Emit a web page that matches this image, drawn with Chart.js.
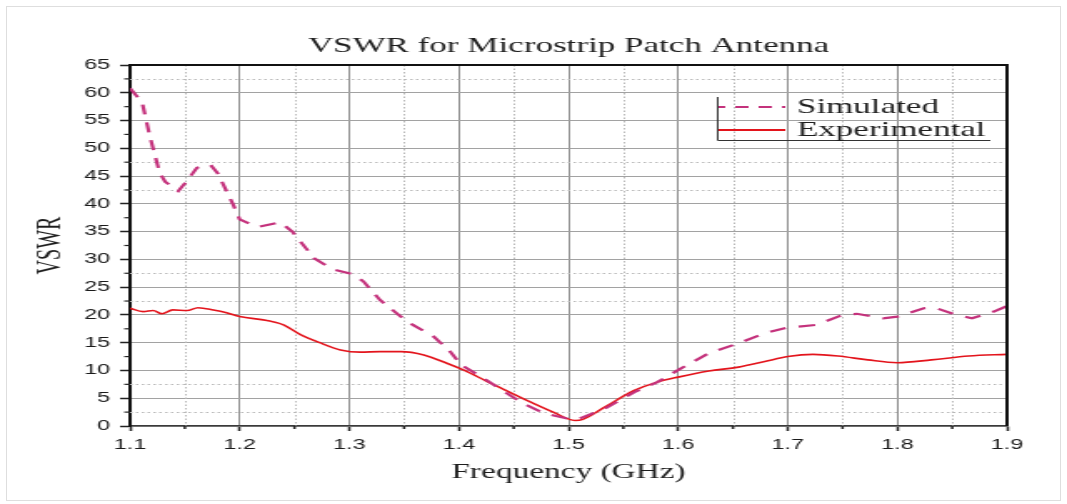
<!DOCTYPE html>
<html>
<head>
<meta charset="utf-8">
<script src="https://cdn.jsdelivr.net/npm/chart.js@4/dist/chart.umd.min.js"></script>
<style>
  html, body { margin: 0; padding: 0; background: #fff; }
  #wrap { position: relative; width: 1067px; height: 504px; overflow: hidden; }
  #frame { position: absolute; left: 6px; top: 6px; right: 6px; bottom: 3px; border: 1px solid #dedede; }
  #c { position: absolute; left: 0; top: 0; }
</style>
</head>
<body>
<div id="wrap">
  <div id="frame"></div>
  <!-- drawn 640 wide, shown 1067 wide: wide glyphs and wide vertical strokes -->
  <canvas id="c" width="640" height="504" style="width:1067px;height:504px"></canvas>
</div>
<script>
// ---- text ----
const chartTitle = 'VSWR for Microstrip Patch Antenna';
const xAxisTitle = 'Frequency (GHz)';
const yAxisTitle = 'VSWR';
const seriesNames = ['Simulated', 'Experimental'];

// ---- axes ----
const xTicks = [1.1, 1.2, 1.3, 1.4, 1.5, 1.6, 1.7, 1.8, 1.9];
const yTicks = [0, 5, 10, 15, 20, 25, 30, 35, 40, 45, 50, 55, 60, 65];
const xMinorTicks = [1.15, 1.25, 1.35, 1.45, 1.55, 1.65, 1.75, 1.85];
const yMinorTicks = [2.5, 7.5, 12.5, 17.5, 22.5, 27.5, 32.5, 37.5, 42.5, 47.5, 52.5, 57.5, 62.5];
const yDottedGrid = [2.5, 7.5, 22.5, 27.5, 42.5, 47.5, 62.5];

// ---- simulated VSWR ----
const simFreq = [1.100, 1.111, 1.118, 1.127, 1.132, 1.144, 1.151, 1.161, 1.173, 1.180,
                 1.194, 1.200, 1.216, 1.237, 1.248, 1.268, 1.285, 1.304, 1.313, 1.328,
                 1.347, 1.358, 1.377, 1.392, 1.402, 1.420, 1.435, 1.459, 1.479, 1.500,
                 1.508, 1.533, 1.560, 1.581, 1.601, 1.628, 1.655, 1.679, 1.699, 1.726,
                 1.750, 1.763, 1.787, 1.800, 1.824, 1.834, 1.854, 1.868, 1.888, 1.900];
const simVswr = [60.8, 58.3, 52.2, 45.6, 44.0, 42.3, 43.9, 46.5, 47.1, 45.5,
                 39.9, 37.2, 35.8, 36.7, 35.0, 30.2, 28.2, 27.3, 26.0, 22.7,
                 19.7, 18.2, 16.1, 13.4, 11.0, 8.9, 7.0, 4.0, 2.2, 1.3,
                 1.2, 3.1, 6.1, 7.9, 10.2, 13.1, 14.9, 16.7, 17.7, 18.2,
                 20.0, 20.2, 19.4, 19.7, 21.2, 21.3, 20.0, 19.4, 20.6, 21.6];

// ---- experimental VSWR ----
const expFreq = [1.100, 1.112, 1.121, 1.129, 1.139, 1.152, 1.162, 1.176, 1.188, 1.200,
                 1.225, 1.240, 1.255, 1.273, 1.292, 1.310, 1.328, 1.347, 1.368, 1.389,
                 1.404, 1.425, 1.459, 1.486, 1.506, 1.513, 1.533, 1.560, 1.581, 1.600,
                 1.628, 1.655, 1.679, 1.700, 1.723, 1.746, 1.773, 1.800, 1.831, 1.865, 1.900];
const expVswr = [21.2, 20.6, 20.8, 20.2, 20.9, 20.8, 21.3, 20.9, 20.4, 19.7,
                 19.0, 18.2, 16.5, 15.0, 13.7, 13.3, 13.4, 13.4, 12.8, 11.3,
                 10.1, 8.1, 4.9, 2.5, 1.0, 1.2, 3.4, 6.4, 7.9, 8.8,
                 9.9, 10.6, 11.6, 12.5, 12.9, 12.6, 11.9, 11.4, 11.9, 12.6, 12.9];

const simColor = '#c4327c';
const expColor = '#e3141c';
const simDash = [10, 8];
const serif = "'Liberation Serif', 'Times New Roman', serif";
const sans = "'Liberation Sans', Arial, sans-serif";

// dotted minor grid, minor ticks, frame edges, title and legend
const decor = {
  id: 'decor',
  beforeDatasetsDraw(chart) {
    const { ctx, chartArea: a, scales: { x, y } } = chart;
    ctx.save();
    ctx.strokeStyle = '#b9b9b9';
    ctx.lineWidth = 1;
    ctx.setLineDash([1.5, 2]);
    xMinorTicks.forEach(v => {
      const px = Math.round(x.getPixelForValue(v)) + 0.5;
      ctx.beginPath(); ctx.moveTo(px, a.top); ctx.lineTo(px, a.bottom); ctx.stroke();
    });
    yDottedGrid.forEach(v => {
      const py = Math.round(y.getPixelForValue(v)) + 0.5;
      ctx.beginPath(); ctx.moveTo(a.left, py); ctx.lineTo(a.right, py); ctx.stroke();
    });
    ctx.setLineDash([]);
    ctx.strokeStyle = '#222';
    ctx.lineWidth = 1.5;
    xMinorTicks.forEach(v => {
      const px = x.getPixelForValue(v);
      ctx.beginPath(); ctx.moveTo(px, a.bottom); ctx.lineTo(px, a.bottom + 3); ctx.stroke();
    });
    ctx.lineWidth = 1.2;
    yMinorTicks.forEach(v => {
      const py = y.getPixelForValue(v);
      ctx.beginPath(); ctx.moveTo(a.left - 3.5, py); ctx.lineTo(a.left, py); ctx.stroke();
    });
    ctx.restore();
  },
  afterDatasetsDraw(chart) {
    const { ctx, chartArea: a } = chart;
    ctx.save();
    ctx.strokeStyle = '#111';
    ctx.lineWidth = 2;
    ctx.beginPath(); ctx.moveTo(a.left, a.top); ctx.lineTo(a.right + 1, a.top); ctx.stroke();
    ctx.beginPath(); ctx.moveTo(a.right, a.top); ctx.lineTo(a.right, a.bottom); ctx.stroke();
    ctx.restore();
  },
  afterDraw(chart) {
    const { ctx, chartArea: a } = chart;
    ctx.save();
    // title
    ctx.fillStyle = '#1e1e1e';
    ctx.font = `21px ${serif}`;
    ctx.textAlign = 'center';
    ctx.textBaseline = 'middle';
    ctx.fillText(chartTitle, (a.left + a.right) / 2, 46);

    // legend
    const lx = a.left + 352, top = a.top + 32, bottom = a.top + 75, rx = a.right - 10;
    ctx.strokeStyle = '#333';
    ctx.lineWidth = 1;
    ctx.beginPath();
    ctx.moveTo(lx + 0.5, top); ctx.lineTo(lx + 0.5, bottom + 0.5); ctx.lineTo(rx, bottom + 0.5);
    ctx.stroke();
    const rows = [
      { name: seriesNames[0], color: simColor, dash: [8, 6], y: a.top + 42 },
      { name: seriesNames[1], color: expColor, dash: [], y: a.top + 65 }
    ];
    ctx.textAlign = 'left';
    ctx.font = `21px ${serif}`;
    rows.forEach(r => {
      ctx.strokeStyle = r.color;
      ctx.lineWidth = 2;
      ctx.setLineDash(r.dash);
      ctx.lineDashOffset = r.dash.length ? 4 : 0;
      ctx.beginPath(); ctx.moveTo(lx + 1, r.y); ctx.lineTo(lx + 41, r.y); ctx.stroke();
      ctx.setLineDash([]);
      ctx.fillStyle = '#1e1e1e';
      ctx.fillText(r.name, lx + 48, r.y);
    });
    ctx.restore();
  }
};

new Chart(document.getElementById('c'), {
  type: 'line',
  data: {
    datasets: [
      {
        label: seriesNames[0],
        data: simFreq.map((f, i) => ({ x: f, y: simVswr[i] })),
        borderColor: simColor,
        borderWidth: 2.2,
        borderDash: simDash,
        pointRadius: 0,
        tension: 0,
        fill: false
      },
      {
        label: seriesNames[1],
        data: expFreq.map((f, i) => ({ x: f, y: expVswr[i] })),
        borderColor: expColor,
        borderWidth: 1.6,
        pointRadius: 0,
        cubicInterpolationMode: 'monotone',
        fill: false
      }
    ]
  },
  options: {
    responsive: false,
    animation: false,
    devicePixelRatio: 1,
    layout: { padding: { left: 0, right: 36, top: 65, bottom: 0 } },
    plugins: { legend: { display: false }, tooltip: { enabled: false }, title: { display: false } },
    scales: {
      x: {
        type: 'linear',
        min: 1.1,
        max: 1.9,
        afterBuildTicks: s => { s.ticks = xTicks.map(v => ({ value: v })); },
        afterFit: s => { s.height = 78; },
        ticks: {
          callback: v => v.toFixed(1),
          font: { family: sans, size: 14 },
          color: '#1a1a1a',
          padding: 6,
          maxRotation: 0,
          autoSkip: false
        },
        grid: { color: '#8e8e8e', lineWidth: 1, tickLength: 5, tickColor: '#222', tickWidth: 1.5 },
        border: { color: '#3a3a3a', width: 1.5 },
        title: {
          display: true,
          text: xAxisTitle,
          font: { family: serif, size: 20 },
          color: '#1e1e1e',
          padding: { top: 0, bottom: 19 }
        }
      },
      y: {
        min: 0,
        max: 65,
        afterBuildTicks: s => { s.ticks = yTicks.map(v => ({ value: v })); },
        afterFit: s => { s.width = 78; },
        ticks: { font: { family: sans, size: 14 }, color: '#1a1a1a', padding: 6 },
        grid: { color: '#a2a2a2', lineWidth: 1, tickLength: 6, tickColor: '#222', tickWidth: 1.5 },
        border: { color: '#111', width: 2 },
        title: {
          display: true,
          text: yAxisTitle,
          font: { family: serif, size: 20 },
          color: '#1e1e1e',
          padding: { top: 19, bottom: 0 }
        }
      }
    }
  },
  plugins: [decor]
});
</script>
</body>
</html>
